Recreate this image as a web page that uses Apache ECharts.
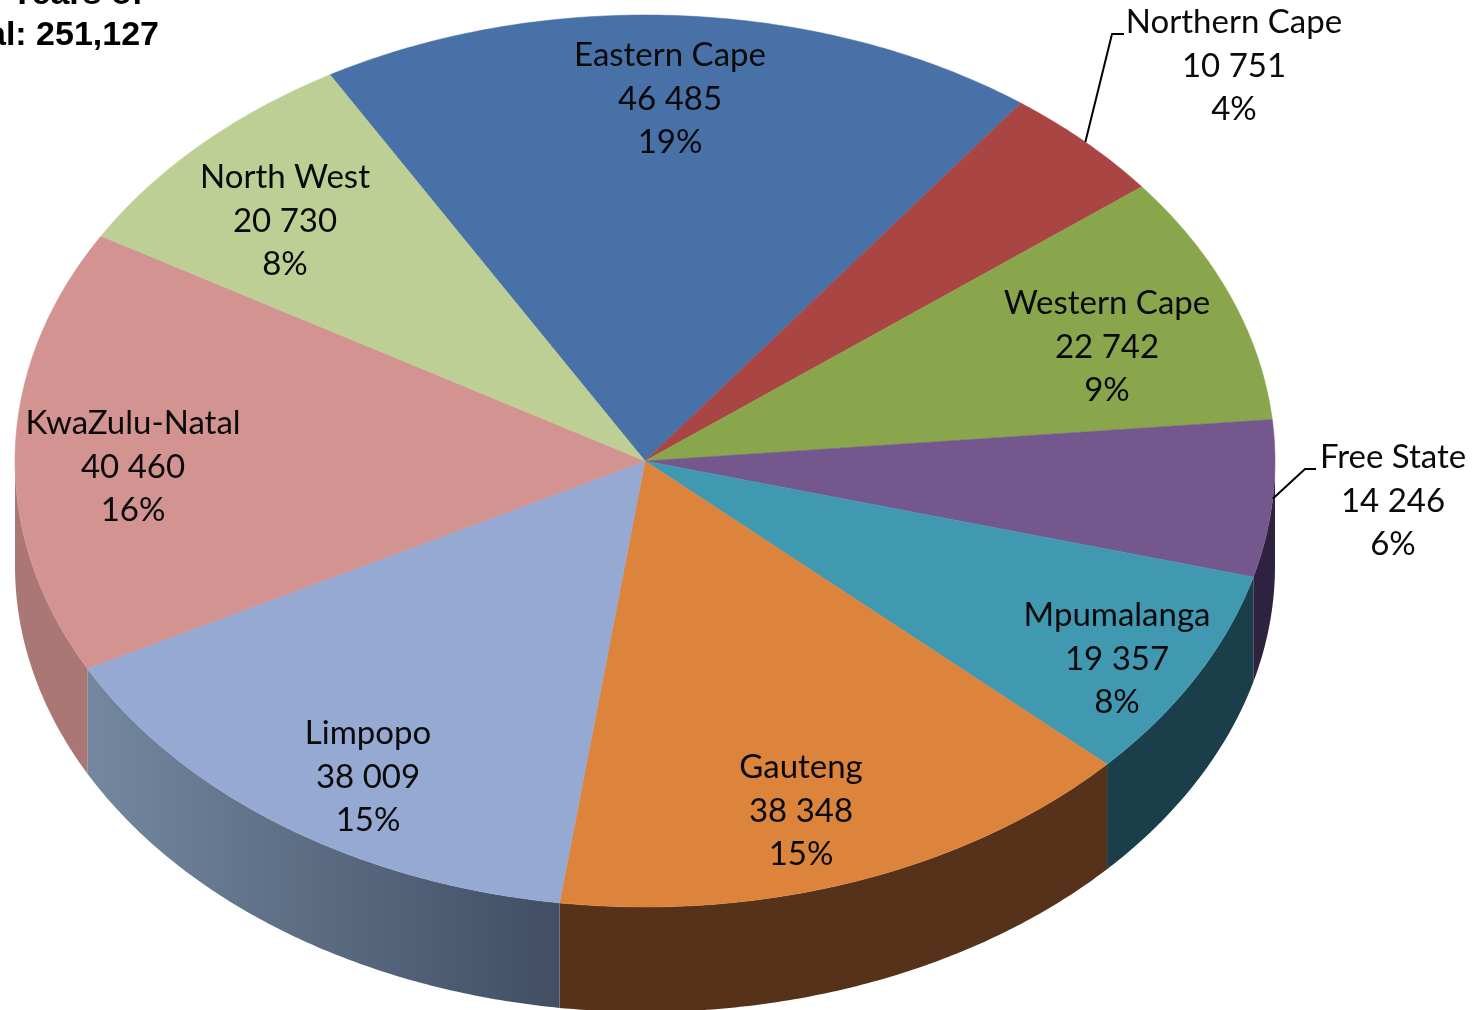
<!DOCTYPE html>
<html><head><meta charset="utf-8">
<style>html,body{margin:0;padding:0;background:#fff;overflow:hidden}#c{width:1477px;height:1010px}</style>
<script src="https://cdn.jsdelivr.net/npm/echarts@6/dist/echarts.min.js"></script>
</head><body><div id="c"></div>
<script>
const provinces = ['Eastern Cape','Northern Cape','Western Cape','Free State','Mpumalanga','Gauteng','Limpopo','KwaZulu-Natal','North West'];
const learners = [46485,10751,22742,14246,19357,38348,38009,40460,20730];
const titleLines = ['Years of','Total: 251,127'];
const topColors = ['#4871a8','#a94644','#8aa64d','#74578c','#4199b1','#dd843c','#95a9d2','#d29391','#bdcf95'];
const sideColors = [null,null,null,'#2f2240','#1a3e4a','#56321a',['#73889f','#414e64'],'#ab7775',null];
const labelCenters = [[670,99],[1234,66],[1107,347],[1393,501],[1117,659],[801,811],[368,777],[133,467],[285,221]];
const leaders = {1:[[1112,34],[1124,34]],3:[[1305,469],[1316,469]]};

const CX=645, CY=461, RX=630, RY=446, DEPTH=105, START=-30;
const total = learners.reduce((a,b)=>a+b,0);
const rad = d=>d*Math.PI/180;
const pt = (deg,dy=0)=>[CX+RX*Math.sin(rad(deg)), CY-RY*Math.cos(rad(deg))+dy];
function bounds(i){
  let s=0; for(let k=0;k<i;k++) s+=learners[k];
  return [START+s/total*360, START+(s+learners[i])/total*360];
}
function arc(a,b,dy){ const out=[]; const n=Math.max(2,Math.ceil(Math.abs(b-a)*2));
  for(let j=0;j<=n;j++) out.push(pt(a+(b-a)*j/n,dy)); return out; }

function renderSlice(params,api){
  const i=params.dataIndex; const [a,b]=bounds(i); const children=[];
  const sa=Math.max(a,90), sb=Math.min(b,270);
  if(sb>sa && sideColors[i]){
    const pts=arc(sa,sb,0).concat(arc(sb,sa,DEPTH));
    let fill=sideColors[i];
    if(Array.isArray(fill)){
      const xs=pts.map(p=>p[0]); const x0=Math.min(...xs), x1=Math.max(...xs);
      fill=new echarts.graphic.LinearGradient(1,0,0,0,[{offset:0,color:fill[1]},{offset:1,color:fill[0]}]);
    }
    children.push({type:'polygon',shape:{points:pts},style:{fill:fill}});
  }
  const top=[[CX,CY]].concat(arc(a,b,0));
  children.push({type:'polygon',z2:5,shape:{points:top},style:{fill:topColors[i],stroke:topColors[i],lineWidth:0.5}});
  return {type:'group',children};
}
function renderLabel(params,api){
  const i=params.dataIndex; const [a,b]=bounds(i); const v=api.value(0);
  const c=labelCenters[i]; const children=[];
  const txt=[provinces[i], String(v).replace(/(\d)(?=(\d{3})$)/,'$1 '), Math.round(v/total*100)+'%'];
  txt.forEach((t,k)=>children.push({type:'text',x:c[0],y:c[1]+(k-1)*43.5,style:{text:t,fill:'#0a0a0a',font:'33px Lato',align:'center',verticalAlign:'middle'}}));
  if(leaders[i]){
    children.push({type:'polyline',shape:{points:[pt((a+b)/2)].concat(leaders[i])},style:{stroke:'#000',lineWidth:2,fill:null}});
  }
  return {type:'group',children};
}
const chart=echarts.init(document.getElementById('c'),null,{renderer:'canvas'});
const data=learners.map((v,i)=>({name:provinces[i],value:[v]}));
chart.setOption({
  animation:false,
  backgroundColor:'#ffffff',
  graphic:[
    {type:'text',x:143,y:12,style:{text:titleLines[0],font:'bold 34px "Liberation Sans"',fill:'#000',align:'right',verticalAlign:'bottom'},z:20},
    {type:'text',x:159,y:53,style:{text:titleLines[1],font:'bold 34px "Liberation Sans"',fill:'#000',align:'right',verticalAlign:'bottom'},z:20}
  ],
  series:[
    {type:'custom',coordinateSystem:'none',renderItem:renderSlice,data:data,silent:true,z:1},
    {type:'custom',coordinateSystem:'none',renderItem:renderLabel,data:data,silent:true,z:2}
  ]
});
</script></body></html>
